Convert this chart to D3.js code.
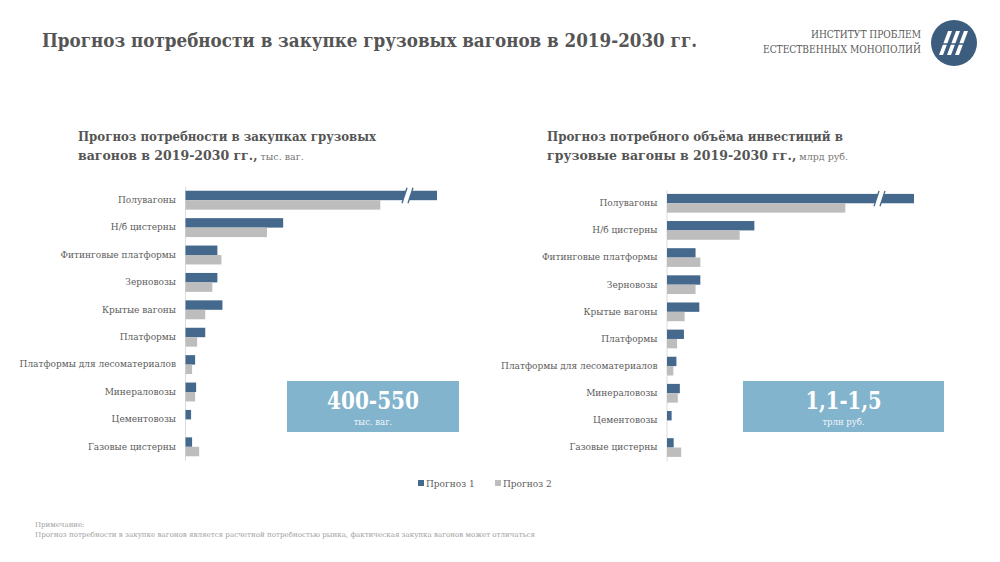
<!DOCTYPE html>
<html><head><meta charset="utf-8">
<script src="https://cdn.jsdelivr.net/npm/d3@7"></script>
<style>
body{margin:0;background:#fff;}
svg{display:block;}
text{font-family:"DejaVu Serif","Liberation Serif",serif;}
</style></head>
<body>
<svg id="c" width="1000" height="562"></svg>
<script>
const categories = ["Полувагоны","Н/б цистерны","Фитинговые платформы","Зерновозы","Крытые вагоны","Платформы","Платформы для лесоматериалов","Минераловозы","Цементовозы","Газовые цистерны"];
// тыс. вагонов
const wagonsP1 = [298, 97, 32, 32, 37, 20, 10, 11, 6, 7];
const wagonsP2 = [193, 81, 36, 27, 20, 12, 7, 10, 0, 14];
// млрд руб.
const investP1 = [808, 257, 85, 99, 96, 51, 29, 39, 15, 21];
const investP2 = [523, 214, 99, 85, 53, 31, 20, 33, 0, 43];
const seriesNames = ["Прогноз 1","Прогноз 2"];
const colors = ["#45698d","#bdbdbd"];

const svg = d3.select("#c");

// Header
svg.append("text").attr("x",42).attr("y",47).attr("font-size",19).attr("font-weight","bold")
  .attr("fill","#555").attr("textLength",655).attr("lengthAdjust","spacingAndGlyphs")
  .text("Прогноз потребности в закупке грузовых вагонов в 2019-2030 гг.");
svg.append("text").attr("x",921).attr("y",38).attr("text-anchor","end").attr("font-size",10.5)
  .attr("fill","#5a5a5a").attr("textLength",110).attr("lengthAdjust","spacingAndGlyphs").text("ИНСТИТУТ ПРОБЛЕМ");
svg.append("text").attr("x",921).attr("y",53).attr("text-anchor","end").attr("font-size",10.5)
  .attr("fill","#5a5a5a").attr("textLength",158).attr("lengthAdjust","spacingAndGlyphs").text("ЕСТЕСТВЕННЫХ МОНОПОЛИЙ");
const logo = svg.append("g").attr("transform","translate(954,43)");
logo.append("circle").attr("r",23).attr("fill","#3d5d7f");
[-9,-1,7].forEach(dx=>{
  logo.append("path").attr("d",`M${dx-6},12 L${dx+3},-12 L${dx+7},-12 L${dx-2},12 Z`).attr("fill","#fff");
});
logo.append("line").attr("x1",-17).attr("x2",17).attr("y1",1).attr("y2",1).attr("stroke","#3d5d7f").attr("stroke-width",1.4);

function panel(cfg){
  const g = svg.append("g");
  // subtitle
  g.append("text").attr("x",cfg.tx).attr("y",141).attr("font-size",12.5).attr("font-weight","bold")
    .attr("fill","#555").attr("textLength",cfg.t1w).attr("lengthAdjust","spacingAndGlyphs").text(cfg.title1);
  const t2 = g.append("text").attr("x",cfg.tx).attr("y",159.5).attr("fill","#555");
  t2.append("tspan").attr("font-size",12.5).attr("font-weight","bold").text(cfg.title2);
  t2.append("tspan").attr("font-size",9.5).attr("fill","#777").text(" "+cfg.unit);

  const x = d3.scaleLinear().domain([0,cfg.max]).range([cfg.x0,cfg.x1]).clamp(true);
  const y = d3.scaleBand().domain(categories).range([cfg.y0,cfg.y1]).paddingInner(0.31).paddingOuter(0.155);
  const ys = d3.scaleBand().domain([0,1]).range([0,y.bandwidth()]);

  const ax = g.append("g").attr("transform",`translate(${cfg.x0},0)`)
    .call(d3.axisLeft(y).tickSize(0).tickSizeOuter(0).tickPadding(9));
  ax.select(".domain").attr("stroke","#dcdcdc").attr("stroke-width",1);
  ax.selectAll("text").attr("font-size",9).attr("fill","#5c5c5c").attr("font-family","DejaVu Serif, serif");

  [cfg.p1,cfg.p2].forEach((vals,si)=>{
    g.selectAll(null).data(vals).enter().append("rect")
      .attr("x",cfg.x0+0.5)
      .attr("y",(d,i)=>y(categories[i])+ys(si))
      .attr("width",d=>Math.max(0,x(d)-cfg.x0-0.5))
      .attr("height",ys.bandwidth())
      .attr("fill",colors[si]);
  });
  // break marker on the clipped bar
  const top = y(categories[0]), h = ys.bandwidth();
  const bx = cfg.x1 - cfg.brk;
  g.append("path").attr("d",`M${bx-3},${top+h+2} L${bx+2},${top-2} L${bx+8},${top-2} L${bx+3},${top+h+2} Z`).attr("fill","#fff");
  g.append("line").attr("x1",bx-3).attr("y1",top+h+3).attr("x2",bx+2).attr("y2",top-3).attr("stroke",colors[0]).attr("stroke-width",1.3);
  g.append("line").attr("x1",bx+3).attr("y1",top+h+3).attr("x2",bx+8).attr("y2",top-3).attr("stroke",colors[0]).attr("stroke-width",1.3);

  // summary box
  g.append("rect").attr("x",cfg.bx).attr("y",381).attr("width",cfg.bw).attr("height",51).attr("fill","#82b4cd");
  g.append("text").attr("x",cfg.bx+cfg.bw/2).attr("y",409).attr("text-anchor","middle").attr("font-size",24)
    .attr("font-weight","bold").attr("fill","#fff").attr("textLength",cfg.bigW).attr("lengthAdjust","spacingAndGlyphs").text(cfg.big);
  g.append("text").attr("x",cfg.bx+cfg.bw/2).attr("y",425).attr("text-anchor","middle").attr("font-size",8.5)
    .attr("fill","#f2f7fa").text(cfg.small);
}

panel({tx:78,t1w:298,title1:"Прогноз потребности в закупках грузовых",title2:"вагонов в 2019-2030 гг.,",unit:"тыс. ваг.",
  x0:185,x1:437,max:249,y0:186.5,y1:460.5,p1:wagonsP1,p2:wagonsP2,brk:32,
  bx:287,bw:172,big:"400-550",bigW:92,small:"тыс. ваг."});
panel({tx:547,t1w:296,title1:"Прогноз потребного объёма инвестиций в",title2:"грузовые вагоны в 2019-2030 гг.,",unit:"млрд руб.",
  x0:666.5,x1:914,max:724,y0:189.7,y1:461.1,p1:investP1,p2:investP2,brk:37,
  bx:743,bw:201,big:"1,1-1,5",bigW:76,small:"трлн руб."});

// legend
const lg = svg.append("g");
[[418,0],[495,1]].forEach(([lx,i])=>{
  lg.append("rect").attr("x",lx).attr("y",480).attr("width",6).attr("height",6).attr("fill",colors[i]);
  lg.append("text").attr("x",lx+8).attr("y",486.5).attr("font-size",9).attr("fill","#5c5c5c").text(seriesNames[i]);
});

// note
svg.append("text").attr("x",35).attr("y",527).attr("font-size",7).attr("fill","#a0a0a0").text("Примечание:");
svg.append("text").attr("x",35).attr("y",537).attr("font-size",7).attr("fill","#a0a0a0")
  .attr("textLength",500).attr("lengthAdjust","spacingAndGlyphs")
  .text("Прогноз потребности в закупке вагонов является расчетной потребностью рынка, фактическая закупка вагонов может отличаться");
</script>
</body></html>
